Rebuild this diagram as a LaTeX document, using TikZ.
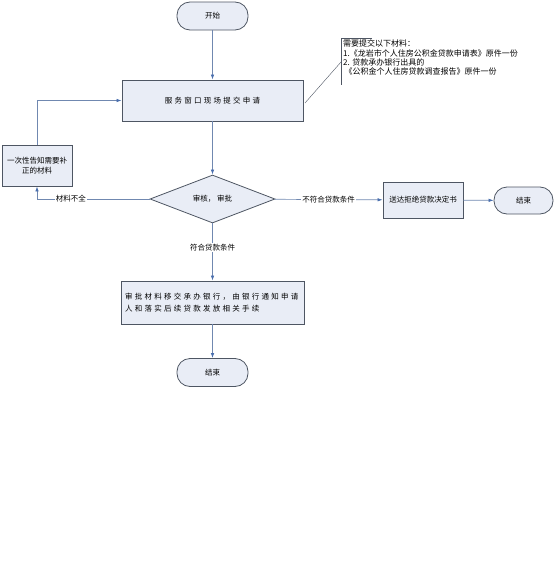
\documentclass[tikz,border=0pt]{standalone}
\usepackage{fontspec}
\newfontfamily\cjk{Noto Sans CJK SC}
\newfontfamily\cjkwide[LetterSpace=30]{Noto Sans CJK SC}
\usetikzlibrary{shapes.geometric,arrows.meta}
\definecolor{boxfill}{HTML}{E9EDF6}
\definecolor{boxline}{HTML}{4E5663}
\definecolor{flowline}{HTML}{7088B0}
\definecolor{tipblue}{HTML}{4A6FAE}
\tikzset{
  every node/.style={font=\cjk\fontsize{7.5}{10}\selectfont},
  proc/.style={draw=boxline, fill=boxfill, line width=0.8pt, inner sep=2pt},
  term/.style={proc, rounded corners=13pt, minimum width=71pt, minimum height=28pt},
  decision/.style={proc, diamond, aspect=2.6, inner sep=0pt, minimum width=125pt, minimum height=48pt},
  flow/.style={draw=flowline, line width=0.7pt, -{Latex[length=5pt,width=3.5pt,color=tipblue]}},
  flowlabel/.style={fill=white, inner sep=1pt}
}
\begin{document}
\begin{tikzpicture}[x=1pt,y=-1pt]
\useasboundingbox (0,0) rectangle (558,562);
% nodes
\node[term] (start) at (212.5,16) {开始};
\node[proc, minimum width=181pt, minimum height=41pt, font=\cjkwide\fontsize{7.5}{10}\selectfont] (apply) at (212.5,100.5) {服务窗口现场提交申请};
\node[proc, minimum width=70pt, minimum height=41pt, align=center] (notify) at (37,165.5) {一次性告知需要补\\正的材料};
\node[decision] (check) at (212.5,199) {审核，\ 审批};
\node[proc, minimum width=80pt, minimum height=36pt] (reject) at (423,200) {送达拒绝贷款决定书};
\node[term, minimum width=59pt, minimum height=27pt] (endR) at (523.5,200.5) {结束};
\node[proc, minimum width=183pt, minimum height=43pt, text width=175pt, align=left,
  font=\cjkwide\fontsize{7.5}{12}\selectfont] (loan) at (212.5,302.5) {审批材料移交承办银行，由银行通知申请\\人和落实后续贷款发放相关手续};
\node[term] (endB) at (212.5,372.5) {结束};
% note
\node[anchor=north west, align=left, inner sep=1pt, font=\cjk\fontsize{8}{9.3}\selectfont] (note) at (342,39)
  {需要提交以下材料：\\1.《龙岩市个人住房公积金贷款申请表》原件一份\\2. 贷款承办银行出具的\\\,《公积金个人住房贷款调查报告》原件一份};
\coordinate (hook) at (341,62);
\coordinate (tip) at (305,103);
\draw[boxline, line width=0.5pt] (372,38) -- (341,38) -- (341,85);
\draw[boxline, line width=0.4pt] (hook) -- (tip);
% connectors
\draw[flow] (start) -- (apply);
\draw[flow] (apply) -- (check);
\draw[flow] (check) -- node[flowlabel] {不符合贷款条件} (reject);
\draw[flow] (reject) -- (endR);
\draw[flow] (check.west) -| node[flowlabel, pos=0.35] {材料不全} (notify.south);
\draw[flow] (notify.north) |- (apply.west);
\draw[flow] (check.south) -- node[flowlabel, pos=0.42] {符合贷款条件} (loan.north);
\draw[flow] (loan) -- (endB);
\end{tikzpicture}
\end{document}
